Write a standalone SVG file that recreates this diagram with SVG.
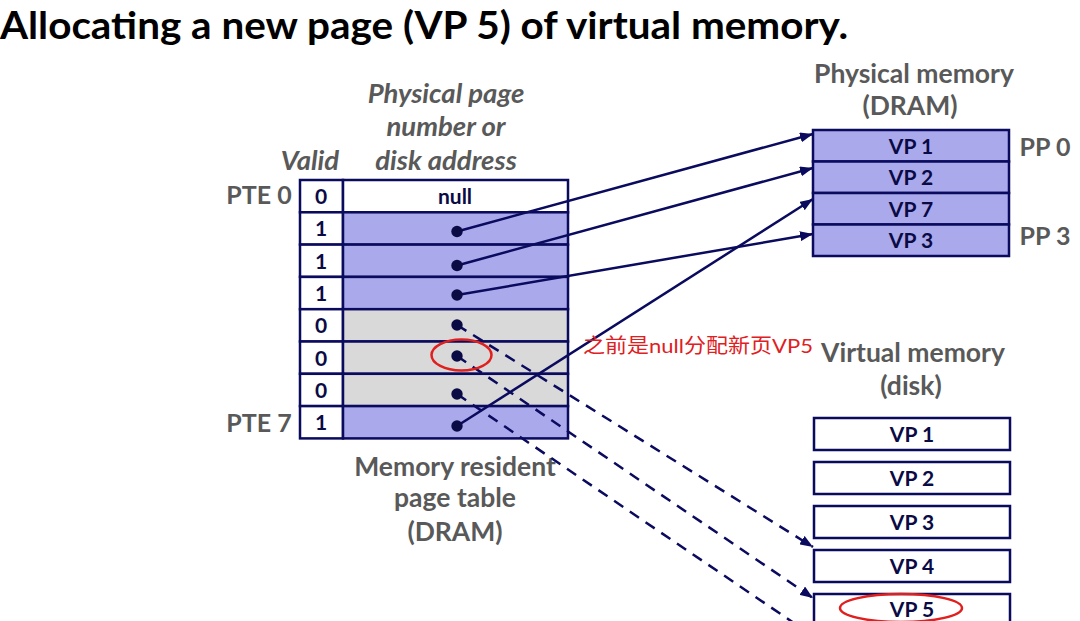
<svg xmlns="http://www.w3.org/2000/svg" width="1080" height="621" viewBox="0 0 1080 621">
<style>
.title{font-family:Lato,"Liberation Sans",sans-serif;font-weight:bold;font-size:38px;fill:#000}
.lbl{font-family:Lato,"Liberation Sans",sans-serif;font-weight:bold;font-size:26.5px;fill:#595959;text-anchor:middle}
.ital{font-style:italic;font-size:27.5px}
.sm{font-size:25px}
.cell{font-family:Lato,"Liberation Sans",sans-serif;font-weight:bold;font-size:21px;fill:#0a0a45;text-anchor:middle}
.box{stroke:#0a0a5e;stroke-width:2.5}
.blue{fill:#a9a9ec}
.gray{fill:#d9d9d9}
.white{fill:#fff}
.conn{stroke:#0a0a5e;stroke-width:2.5;fill:none}
.dash{stroke-dasharray:11 8}
.red{fill:none;stroke:#e0201e;stroke-width:2.5}
.note{font-family:Lato,"Noto Sans CJK SC",sans-serif;font-size:20px;fill:#e0201e}
</style>
<defs>
<marker id="arr" markerUnits="userSpaceOnUse" markerWidth="13" markerHeight="10" refX="13" refY="5" orient="auto">
<path d="M0,0 L13,5 L0,10 z" fill="#0a0a5e"/>
</marker>
</defs>
<rect width="1080" height="621" fill="#fff"/>
<text class="title" x="0" y="39" textLength="848" lengthAdjust="spacingAndGlyphs">Allocating a new page (VP 5) of virtual memory.</text>

<g id="labels-pt">
<text class="lbl ital" x="446" y="103">Physical page</text>
<text class="lbl ital" x="446" y="136">number or</text>
<text class="lbl ital" x="446" y="170">disk address</text>
<text class="lbl ital" x="310" y="170">Valid</text>
<text class="lbl sm" x="259" y="204">PTE 0</text>
<text class="lbl sm" x="259" y="432">PTE 7</text>
<text class="lbl" x="455" y="476">Memory resident</text>
<text class="lbl" x="455" y="507">page table</text>
<text class="lbl" x="455" y="541">(DRAM)</text>
</g>

<g id="page-table">
<rect class="box white" x="300" y="180" width="43" height="32.3"/>
<rect class="box white" x="343" y="180" width="225" height="32.3"/>
<rect class="box white" x="300" y="212.3" width="43" height="32.3"/>
<rect class="box blue" x="343" y="212.3" width="225" height="32.3"/>
<rect class="box white" x="300" y="244.6" width="43" height="32.3"/>
<rect class="box blue" x="343" y="244.6" width="225" height="32.3"/>
<rect class="box white" x="300" y="276.9" width="43" height="32.3"/>
<rect class="box blue" x="343" y="276.9" width="225" height="32.3"/>
<rect class="box white" x="300" y="309.2" width="43" height="32.3"/>
<rect class="box gray" x="343" y="309.2" width="225" height="32.3"/>
<rect class="box white" x="300" y="341.5" width="43" height="32.3"/>
<rect class="box gray" x="343" y="341.5" width="225" height="32.3"/>
<rect class="box white" x="300" y="373.8" width="43" height="32.3"/>
<rect class="box gray" x="343" y="373.8" width="225" height="32.3"/>
<rect class="box white" x="300" y="406.1" width="43" height="32.3"/>
<rect class="box blue" x="343" y="406.1" width="225" height="32.3"/>
<text class="cell" x="321" y="203.5">0</text>
<text class="cell" x="455" y="203.5">null</text>
<text class="cell" x="321" y="236">1</text>
<text class="cell" x="321" y="268.5">1</text>
<text class="cell" x="321" y="300.5">1</text>
<text class="cell" x="321" y="333">0</text>
<text class="cell" x="321" y="365.5">0</text>
<text class="cell" x="321" y="397.5">0</text>
<text class="cell" x="321" y="430">1</text>
</g>

<g id="physical-memory">
<text class="lbl" x="914" y="83">Physical memory</text>
<text class="lbl" x="910" y="115">(DRAM)</text>
<rect class="box blue" x="813" y="130" width="196" height="31.5"/>
<rect class="box blue" x="813" y="161.5" width="196" height="31.5"/>
<rect class="box blue" x="813" y="193" width="196" height="31.5"/>
<rect class="box blue" x="813" y="224.5" width="196" height="31.5"/>
<text class="cell" x="911" y="153.5">VP 1</text>
<text class="cell" x="911" y="185">VP 2</text>
<text class="cell" x="911" y="216.5">VP 7</text>
<text class="cell" x="911" y="248">VP 3</text>
<text class="lbl sm" x="1045" y="156">PP 0</text>
<text class="lbl sm" x="1045" y="245">PP 3</text>
</g>

<g id="virtual-memory">
<text class="lbl" x="913" y="362">Virtual memory</text>
<text class="lbl" x="911" y="395">(disk)</text>
<rect class="box white" x="814" y="418" width="196" height="32"/>
<rect class="box white" x="814" y="462" width="196" height="32"/>
<rect class="box white" x="814" y="506" width="196" height="32"/>
<rect class="box white" x="814" y="550" width="196" height="32"/>
<rect class="box white" x="814" y="594" width="196" height="32"/>
<text class="cell" x="912" y="441.5">VP 1</text>
<text class="cell" x="912" y="485.5">VP 2</text>
<text class="cell" x="912" y="529.5">VP 3</text>
<text class="cell" x="912" y="573.5">VP 4</text>
<text class="cell" x="912" y="617">VP 5</text>
</g>

<g id="connectors">
<line class="conn" x1="457" y1="231.5" x2="813" y2="134" marker-end="url(#arr)"/>
<line class="conn" x1="457" y1="265.5" x2="813" y2="168" marker-end="url(#arr)"/>
<line class="conn" x1="457" y1="295" x2="813" y2="234" marker-end="url(#arr)"/>
<line class="conn" x1="457" y1="426" x2="813" y2="199" marker-end="url(#arr)"/>
<line class="conn dash" x1="457" y1="325" x2="813" y2="547" marker-end="url(#arr)"/>
<line class="conn dash" x1="457" y1="356" x2="813" y2="598" marker-end="url(#arr)"/>
<line class="conn dash" x1="457" y1="394" x2="813" y2="636" marker-end="url(#arr)"/>
<g fill="#0a0a45">
<circle cx="457" cy="231.5" r="5.7"/>
<circle cx="457" cy="265.5" r="5.7"/>
<circle cx="457" cy="295" r="5.7"/>
<circle cx="457" cy="325" r="5.7"/>
<circle cx="457" cy="356" r="5.7"/>
<circle cx="457" cy="394" r="5.7"/>
<circle cx="457" cy="426" r="5.7"/>
</g>
</g>

<g id="annotation">
<ellipse class="red" cx="461.5" cy="355" rx="30" ry="15.5"/>
<ellipse class="red" cx="901" cy="608" rx="61" ry="14"/>
<text class="note" x="583" y="353" textLength="230" lengthAdjust="spacingAndGlyphs">之前是null分配新页VP5</text>
</g>
</svg>
